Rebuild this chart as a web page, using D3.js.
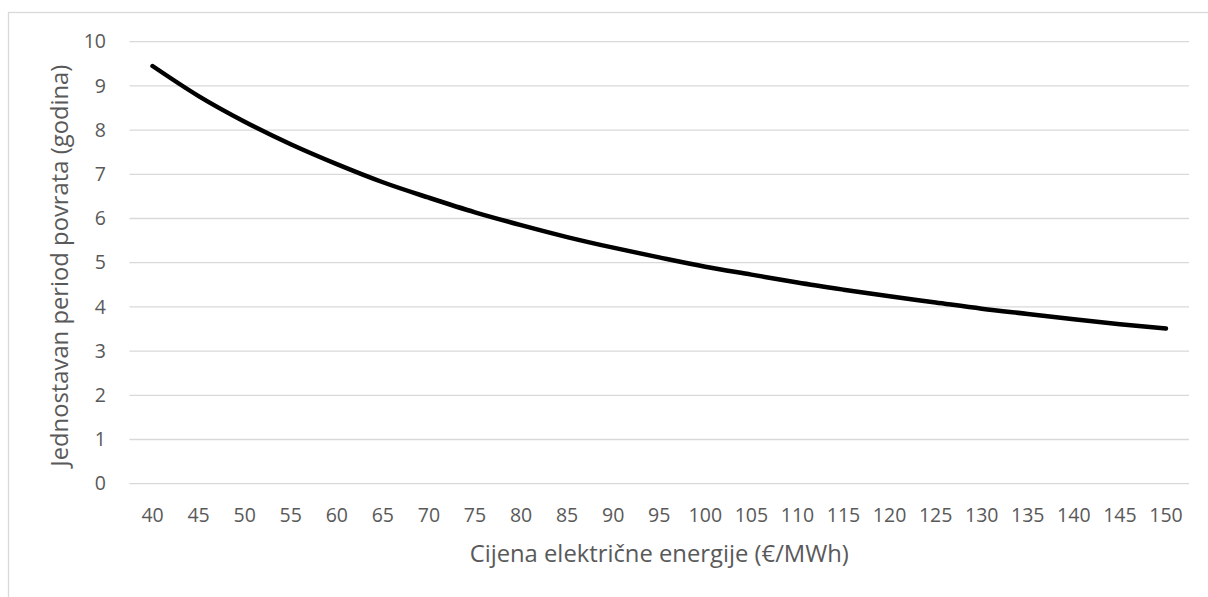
<!DOCTYPE html>
<html lang="hr">
  <head>
    <meta charset="utf-8">
    <title>Jednostavan period povrata</title>
    <script src="https://d3js.org/d3.v7.min.js"></script>
    <style>
      body { margin: 0; background: #fff; }
      svg text { font-family: "Open Sans", sans-serif; fill: #595959; }
      .grid line { stroke: #d9d9d9; stroke-width: 1.3; }
      .frame { fill: none; stroke: #d9d9d9; stroke-width: 1.3; }
    </style>
  </head>
  <body>
    <div id="chart"></div>
    <script>
      // cijena struje (€/MWh) i period povrata (godine), ocitano s grafa
      var prices = [40, 45, 50, 55, 60, 65, 70, 75, 80, 85, 90, 95, 100, 105, 110, 115, 120, 125, 130, 135, 140, 145, 150];
      var payback = [9.45, 8.77, 8.19, 7.68, 7.23, 6.82, 6.47, 6.14, 5.85, 5.58, 5.34, 5.12, 4.91, 4.73, 4.55, 4.39, 4.24, 4.10, 3.96, 3.84, 3.72, 3.61, 3.51];
      var yTicks = [0, 1, 2, 3, 4, 5, 6, 7, 8, 9, 10];

      var width = 1208, height = 597;
      var margin = {top: 41.7, right: 19, bottom: 113.3, left: 129.5};
      var w = width - margin.left - margin.right,
          h = height - margin.top - margin.bottom;

      var svg = d3.select("#chart").append("svg")
        .attr("width", width)
        .attr("height", height);

      // chart frame (bottom/right run off the page)
      svg.append("rect").attr("class", "frame")
        .attr("x", 8.5).attr("y", 12.5)
        .attr("width", 1220).attr("height", 620);

      var g = svg.append("g")
        .attr("transform", "translate(" + margin.left + "," + margin.top + ")");

      var x = d3.scaleBand().domain(prices).range([0, w]);
      var y = d3.scaleLinear().domain([0, 10]).range([h, 0]);

      g.append("g").attr("class", "grid")
        .selectAll("line").data(yTicks).enter().append("line")
          .attr("x1", 0).attr("x2", w)
          .attr("y1", function(d) { return y(d); })
          .attr("y2", function(d) { return y(d); });

      var yAxis = g.append("g")
        .call(d3.axisLeft(y).tickValues(yTicks).tickSize(0).tickPadding(23.5));
      yAxis.select(".domain").remove();
      yAxis.selectAll("text").style("font-size", "19.5px").attr("fill", "#595959");

      var xAxis = g.append("g")
        .attr("transform", "translate(0," + h + ")")
        .call(d3.axisBottom(x).tickSize(0).tickPadding(24));
      xAxis.select(".domain").remove();
      xAxis.selectAll("text").style("font-size", "19.5px").attr("fill", "#595959");

      var line = d3.line()
        .x(function(d, i) { return x(prices[i]) + x.bandwidth() / 2; })
        .y(function(d) { return y(d); })
        .curve(d3.curveMonotoneX);

      g.append("path")
        .datum(payback)
        .attr("fill", "none")
        .attr("stroke", "#000")
        .attr("stroke-width", 4.5)
        .attr("stroke-linecap", "round")
        .attr("stroke-linejoin", "round")
        .attr("d", line);

      g.append("text")
        .attr("x", w / 2)
        .attr("y", h + 78)
        .attr("text-anchor", "middle")
        .style("font-size", "23.8px")
        .text("Cijena električne energije (€/MWh)");

      g.append("text")
        .attr("transform", "translate(" + (-61.5) + "," + (h / 2 + 3) + ") rotate(-90)")
        .attr("text-anchor", "middle")
        .style("font-size", "23.8px")
        .text("Jednostavan period povrata (godina)");
    </script>
  </body>
</html>
